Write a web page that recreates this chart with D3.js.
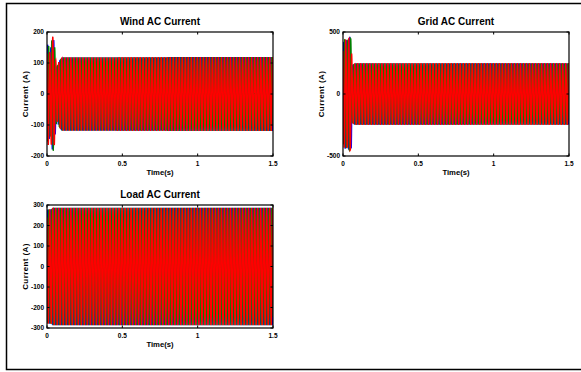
<!DOCTYPE html>
<html>
<head>
<meta charset="utf-8">
<script src="https://cdn.jsdelivr.net/npm/d3@7"></script>
<style>
body { margin: 0; background: #fff; }
svg { display: block; font-family: "Liberation Sans", Arial, sans-serif; }
</style>
</head>
<body>
<svg id="fig" width="581" height="372"></svg>
<script>
// three-phase waveforms, 50 Hz carrier, amplitude envelope
const freq = 50;
const tEnd = 1.5;
const phaseNames = ["a", "b", "c"];
const phaseShift = [0, -120, 120];
const phaseColors = ["#0000ff", "#008000", "#ff0000"];
const phaseWidths = [1.3, 1.3, 1.45];
const xTicks = [0, 0.5, 1, 1.5];

const windEnvT = [0, 0.008, 0.02, 0.03, 0.04, 0.05, 0.058, 0.065, 0.08, 0.1, 1.5];
const windEnvA = [150, 165, 130, 170, 188, 160, 110, 85, 105, 117, 118];
const windTicks = [-200, -100, 0, 100, 200];

const gridEnvT = [0, 0.01, 0.03, 0.045, 0.055, 0.06, 0.08, 1.5];
const gridEnvA = [400, 440, 430, 460, 440, 230, 245, 245];
const gridTicks = [-500, 0, 500];

const loadEnvT = [0, 0.03, 0.04, 1.5];
const loadEnvA = [276, 278, 285, 285];
const loadTicks = [-300, -200, -100, 0, 100, 200, 300];

const panels = [
    { title: "Wind AC Current", x0: 47, x1: 273, y0: 32, y1: 156, ymax: 200, ticks: windTicks, envT: windEnvT, envA: windEnvA },
    { title: "Grid AC Current", x0: 343, x1: 569, y0: 32, y1: 156, ymax: 500, ticks: gridTicks, envT: gridEnvT, envA: gridEnvA },
    { title: "Load AC Current", x0: 47, x1: 273, y0: 205, y1: 328, ymax: 300, ticks: loadTicks, envT: loadEnvT, envA: loadEnvA }
];

const svg = d3.select("#fig");

svg.append("rect")
    .attr("x", 6.5).attr("y", 3.5)
    .attr("width", 620).attr("height", 366)
    .attr("fill", "none").attr("stroke", "#000").attr("stroke-width", 1.5);

const samplesPerCycle = 30;
const times = d3.range(0, tEnd + 1e-9, 1 / (freq * samplesPerCycle));

panels.forEach((p, pi) => {
    const x = d3.scaleLinear().domain([0, tEnd]).range([p.x0, p.x1]);
    const y = d3.scaleLinear().domain([-p.ymax, p.ymax]).range([p.y1, p.y0]);
    const env = d3.scaleLinear().domain(p.envT).range(p.envA).clamp(true);

    const g = svg.append("g");
    const clipId = "clip" + pi;
    g.append("clipPath").attr("id", clipId)
        .append("rect")
        .attr("x", p.x0).attr("y", p.y0)
        .attr("width", p.x1 - p.x0).attr("height", p.y1 - p.y0);

    const line = d3.line().x(d => x(d[0])).y(d => y(d[1]));

    phaseNames.forEach((ph, k) => {
        const pts = times.map(t => [
            t,
            env(t) * Math.sin(2 * Math.PI * freq * t + phaseShift[k] * Math.PI / 180)
        ]);
        g.append("path")
            .attr("clip-path", `url(#${clipId})`)
            .attr("d", line(pts))
            .attr("fill", "none")
            .attr("stroke", phaseColors[k])
            .attr("stroke-width", phaseWidths[k]);
    });

    // box
    g.append("rect")
        .attr("x", p.x0).attr("y", p.y0)
        .attr("width", p.x1 - p.x0).attr("height", p.y1 - p.y0)
        .attr("fill", "none").attr("stroke", "#000").attr("stroke-width", 1.2);

    // inward ticks on all sides
    const tl = 2.5;
    xTicks.forEach(v => {
        g.append("line").attr("x1", x(v)).attr("x2", x(v))
            .attr("y1", p.y1).attr("y2", p.y1 - tl).attr("stroke", "#000");
        g.append("line").attr("x1", x(v)).attr("x2", x(v))
            .attr("y1", p.y0).attr("y2", p.y0 + tl).attr("stroke", "#000");
        g.append("text")
            .attr("x", x(v)).attr("y", p.y1 + 10)
            .attr("text-anchor", "middle")
            .attr("font-size", 6.5).attr("font-weight", "bold")
            .text(d3.format("~g")(v));
    });
    p.ticks.forEach(v => {
        g.append("line").attr("x1", p.x0).attr("x2", p.x0 + tl)
            .attr("y1", y(v)).attr("y2", y(v)).attr("stroke", "#000");
        g.append("line").attr("x1", p.x1).attr("x2", p.x1 - tl)
            .attr("y1", y(v)).attr("y2", y(v)).attr("stroke", "#000");
        g.append("text")
            .attr("x", p.x0 - 3).attr("y", y(v) + 2.3)
            .attr("text-anchor", "end")
            .attr("font-size", 6.5).attr("font-weight", "bold")
            .text(v);
    });

    g.append("text")
        .attr("x", (p.x0 + p.x1) / 2).attr("y", p.y0 - 7)
        .attr("text-anchor", "middle")
        .attr("font-size", 10).attr("font-weight", "bold")
        .text(p.title);

    g.append("text")
        .attr("x", (p.x0 + p.x1) / 2).attr("y", p.y1 + 19)
        .attr("text-anchor", "middle")
        .attr("font-size", 7.7).attr("font-weight", "bold")
        .text("Time(s)");

    g.append("text")
        .attr("transform", `translate(${p.x0 - 19},${(p.y0 + p.y1) / 2}) rotate(-90)`)
        .attr("text-anchor", "middle")
        .attr("font-size", 8).attr("font-weight", "bold")
        .attr("letter-spacing", 0.4)
        .text("Current (A)");
});
</script>
</body>
</html>
